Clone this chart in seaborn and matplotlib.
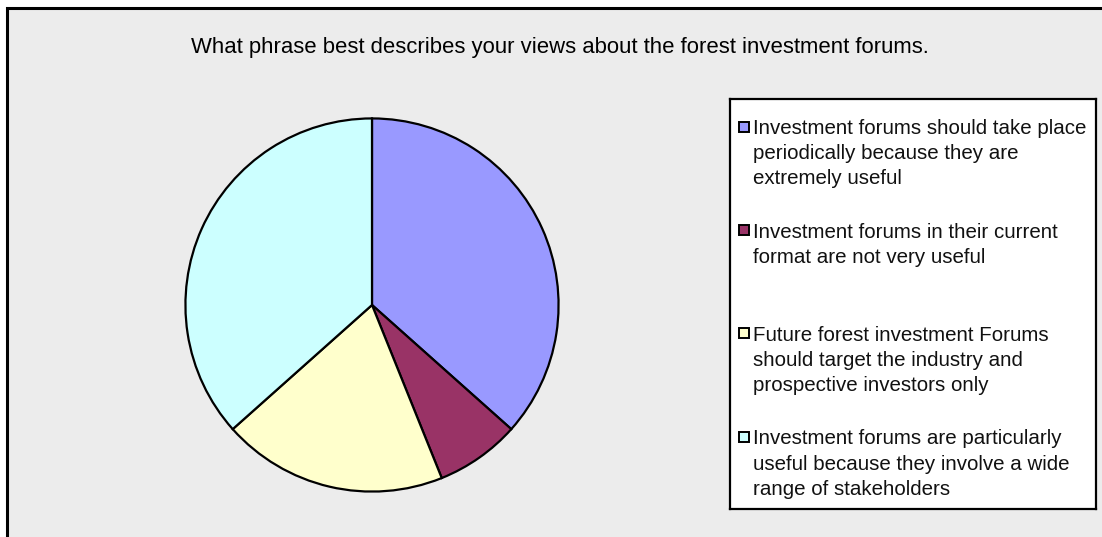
import matplotlib
matplotlib.use("Agg")
import matplotlib.pyplot as plt
from matplotlib.patches import Rectangle
import seaborn as sns

sns.set_theme(style="white")
plt.rcParams['font.family'] = ['Liberation Sans', 'DejaVu Sans']

title = "What phrase best describes your views about the forest investment forums."
labels = [
    "Investment forums should take place\nperiodically because they are\nextremely useful",
    "Investment forums in their current\nformat are not very useful",
    "Future forest investment Forums\nshould target the industry and\nprospective investors only",
    "Investment forums are particularly\nuseful because they involve a wide\nrange of stakeholders",
]
values = [15, 3, 8, 15]
colors = ["#9999FF", "#993366", "#FFFFCC", "#CCFFFF"]

W, H = 1102, 537
fig = plt.figure(figsize=(W / 100, H / 100), dpi=100)
fig.patch.set_facecolor("white")

# chart area frame
frame = Rectangle((7 / W, -0.1), 1.2, (H - 8) / H + 0.1, transform=fig.transFigure,
                  facecolor="#ECECEC", edgecolor="black", linewidth=2.2, zorder=-5)
fig.patches.append(frame)

fig.text(560 / W, 1 - 48 / H, title, ha="center", va="center", fontsize=15.9, color="black")

# pie
cx, cy, r = 372, H - 305, 187.5
ax = fig.add_axes([(cx - r) / W, (cy - r) / H, 2 * r / W, 2 * r / H])
ax.pie(values, colors=colors, startangle=90, counterclock=False, radius=1,
       wedgeprops=dict(edgecolor="black", linewidth=1.6))
ax.set_xlim(-1.005, 1.005)
ax.set_ylim(-1.005, 1.005)
ax.set_aspect("equal")
ax.axis("off")

# legend
lx0, ly0, lx1, ly1 = 730, 99, 1096, 509
lax = fig.add_axes([lx0 / W, (H - ly1) / H, (lx1 - lx0) / W, (ly1 - ly0) / H])
lax.set_xlim(lx0, lx1)
lax.set_ylim(ly1, ly0)
lax.set_facecolor("white")
for s in lax.spines.values():
    s.set_edgecolor("black")
    s.set_linewidth(1.6)
    s.set_visible(True)
lax.set_xticks([])
lax.set_yticks([])
slot = 103.5
for i, (lab, col) in enumerate(zip(labels, colors)):
    y = 126.5 + i * slot
    lax.add_patch(Rectangle((738.5, y - 5), 10, 10, facecolor=col, edgecolor="black", linewidth=1.4))
    lax.text(753, y - 7.5, lab, ha="left", va="top", fontsize=14.8, linespacing=1.41, color="#111111")

fig.savefig("out.png", dpi=100)
